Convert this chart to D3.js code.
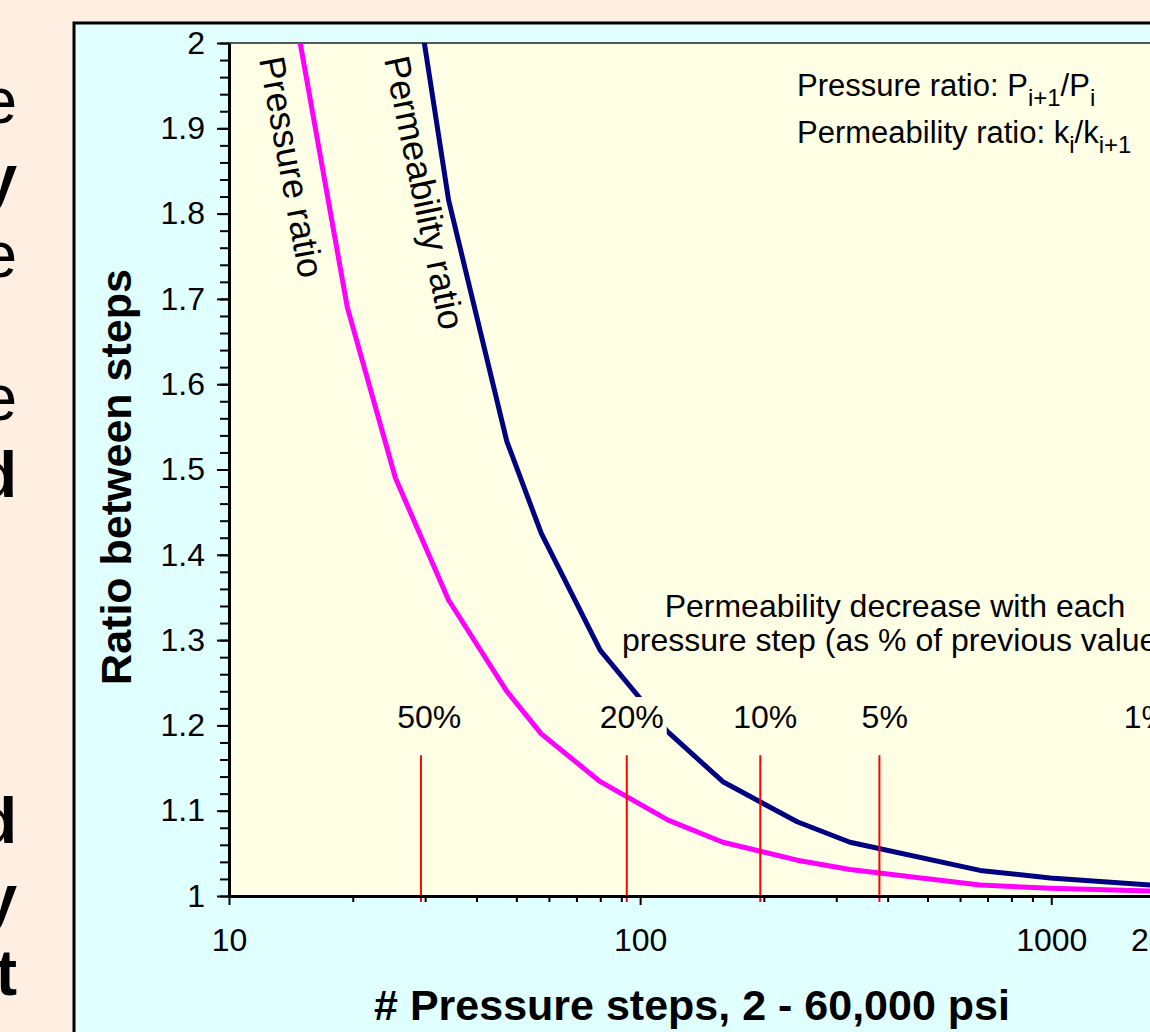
<!DOCTYPE html>
<html>
<head>
<meta charset="utf-8">
<script src="https://cdn.jsdelivr.net/npm/d3@7"></script>
<style>
  html, body { margin: 0; padding: 0; background: #FFEEE2; overflow: hidden; }
  svg { display: block; font-family: "Liberation Sans", Arial, Helvetica, sans-serif; }
</style>
</head>
<body>
<svg id="chart" width="1150" height="1032"></svg>
<script>
// Number of pressure steps used to go from 2 to 60,000 psi
const steps = [14.9, 19.4, 25.4, 34.2, 47.4, 57.5, 80, 117, 159, 241, 324, 671, 995, 2000];
// Pressure ratio between consecutive steps, P(i+1)/P(i)
const pressureRatio = [2.0, 1.69, 1.49, 1.347, 1.24, 1.19, 1.134, 1.089, 1.063, 1.042, 1.031, 1.013, 1.009, 1.005];
// Permeability ratio between consecutive steps, k(i)/k(i+1)
const permeabilityRatio = [4.0, 2.86, 2.22, 1.816, 1.533, 1.425, 1.288, 1.192, 1.134, 1.087, 1.063, 1.030, 1.021, 1.011];

// Permeability decrease per step and the step count where it is reached
const decreaseLabels = ["50%", "20%", "10%", "5%", "1%"];
const decreaseSteps = [29.3, 92.8, 196, 382, 2060];
const decreaseLabelSteps = [30.7, 95.4, 201.5, 393.5, 1708];
const decreaseMarkerRange = [0.993, 1.165];

// Axis ticks
const xTickValues = [10, 100, 1000, 2000];
const xTickLabels = ["10", "100", "1000", "2000"];
const xMinorTicks = [20, 30, 40, 50, 60, 70, 80, 90, 200, 300, 400, 500, 600, 700, 800, 900];
const yTickValues = [1, 1.1, 1.2, 1.3, 1.4, 1.5, 1.6, 1.7, 1.8, 1.9, 2];
const yTickLabels = ["1", "1.1", "1.2", "1.3", "1.4", "1.5", "1.6", "1.7", "1.8", "1.9", "2"];
const yMinorTicks = d3.range(1, 2.0001, 0.02);

// Tail ends of the slide's body text lines
const sideLetters = ["e", "y", "e", "e", "d", "d", "y", "t"];

const svg = d3.select("#chart");
const plot = { left: 229, top: 43, right: 1175, bottom: 896 };

const x = d3.scaleLog().domain([10, 2000]).range([plot.left, plot.right]);
const y = d3.scaleLinear().domain([1, 2]).range([plot.bottom, plot.top]);

// ---- slide text on the left (clipped by the page edge)
const sideLayout = [
  { y: 123, bold: false }, { y: 200, bold: true }, { y: 277, bold: false },
  { y: 420, bold: false }, { y: 497, bold: true },
  { y: 843, bold: true }, { y: 920, bold: true }, { y: 995, bold: true }
];
svg.append("g").selectAll("text")
  .data(sideLetters)
  .join("text")
  .attr("x", 17)
  .attr("y", (d, i) => sideLayout[i].y)
  .attr("text-anchor", "end")
  .attr("font-size", 64)
  .attr("font-weight", (d, i) => sideLayout[i].bold ? "bold" : "normal")
  .attr("fill", "#000")
  .text(d => d);

// ---- chart panel
svg.append("rect")
  .attr("x", 74).attr("y", 23)
  .attr("width", 1120).attr("height", 1060)
  .attr("fill", "#E0FFFF")
  .attr("stroke", "#000").attr("stroke-width", 3);

// plot area
svg.append("rect")
  .attr("x", plot.left).attr("y", plot.top)
  .attr("width", plot.right - plot.left).attr("height", plot.bottom - plot.top)
  .attr("fill", "#FFFFE5")
  .attr("stroke", "#222").attr("stroke-width", 1.5);

svg.append("clipPath").attr("id", "plot-clip")
  .append("rect")
  .attr("x", plot.left).attr("y", plot.top)
  .attr("width", plot.right - plot.left).attr("height", plot.bottom - plot.top);

// ---- curves
const pressureSeries = steps.map((n, i) => ({ n, v: pressureRatio[i] }));
const permeabilitySeries = steps.map((n, i) => ({ n, v: permeabilityRatio[i] }));
const line = d3.line().x(d => x(d.n)).y(d => y(d.v));

const curves = svg.append("g").attr("clip-path", "url(#plot-clip)");
curves.append("path")
  .datum(pressureSeries)
  .attr("d", line)
  .attr("fill", "none")
  .attr("stroke", "#FF00FF")
  .attr("stroke-width", 5)
  .attr("stroke-linejoin", "round");
curves.append("path")
  .datum(permeabilitySeries)
  .attr("d", line)
  .attr("fill", "none")
  .attr("stroke", "#000080")
  .attr("stroke-width", 5)
  .attr("stroke-linejoin", "round");

// ---- permeability-decrease markers
svg.append("g").selectAll("line")
  .data(decreaseSteps)
  .join("line")
  .attr("x1", d => x(d)).attr("x2", d => x(d))
  .attr("y1", y(decreaseMarkerRange[1]))
  .attr("y2", y(decreaseMarkerRange[0]))
  .attr("stroke", "#FF0000")
  .attr("stroke-width", 2);

const pctGroup = svg.append("g");
decreaseLabels.forEach((lab, i) => {
  const g = pctGroup.append("g");
  const box = g.append("rect").attr("fill", "#FFFFE5");
  const t = g.append("text")
    .attr("x", x(decreaseLabelSteps[i]))
    .attr("y", 728)
    .attr("text-anchor", "middle")
    .attr("font-size", 32)
    .attr("fill", "#000")
    .text(lab);
  const bb = t.node().getBBox();
  box.attr("x", bb.x - 3).attr("y", bb.y - 2)
     .attr("width", bb.width + 6).attr("height", bb.height + 10);
});

// ---- axes
const axisStyle = g => {
  g.selectAll(".domain").attr("stroke", "#000").attr("stroke-width", 3);
  g.selectAll(".tick line").attr("stroke", "#000").attr("stroke-width", 2);
  g.selectAll("text").attr("font-size", 32).attr("fill", "#000")
    .attr("font-family", "'Liberation Sans', Arial, sans-serif");
};

// y minor ticks
svg.append("g")
  .attr("transform", `translate(${plot.left},0)`)
  .call(d3.axisLeft(y).tickValues(yMinorTicks).tickSize(9).tickFormat(""))
  .call(g => g.select(".domain").remove())
  .call(axisStyle);

// y major ticks
svg.append("g")
  .attr("transform", `translate(${plot.left},0)`)
  .call(d3.axisLeft(y).tickValues(yTickValues).tickSize(12).tickSizeOuter(0).tickPadding(12)
        .tickFormat((d, i) => yTickLabels[i]))
  .call(axisStyle);

// x minor ticks
svg.append("g")
  .attr("transform", `translate(0,${plot.bottom})`)
  .call(d3.axisBottom(x).tickValues(xMinorTicks).tickSize(6).tickFormat(""))
  .call(g => g.select(".domain").remove())
  .call(axisStyle);

// x major ticks
const xAxisG = svg.append("g")
  .attr("transform", `translate(0,${plot.bottom})`)
  .call(d3.axisBottom(x).tickValues(xTickValues).tickSize(9).tickSizeOuter(0).tickPadding(23)
        .tickFormat((d, i) => xTickLabels[i]))
  .call(axisStyle);
xAxisG.selectAll(".tick").filter(d => d === 2000).select("text").attr("dx", -9);

// axis titles
svg.append("text")
  .attr("x", 692).attr("y", 1020)
  .attr("text-anchor", "middle")
  .attr("font-size", 43).attr("font-weight", "bold")
  .text("# Pressure steps, 2 - 60,000 psi");

svg.append("text")
  .attr("transform", "translate(131,477) rotate(-90)")
  .attr("text-anchor", "middle")
  .attr("font-size", 43).attr("font-weight", "bold")
  .text("Ratio between steps");

// ---- curve labels
svg.append("text")
  .attr("transform", "translate(259,59) rotate(79.6)")
  .attr("font-size", 36)
  .text("Pressure ratio");
svg.append("text")
  .attr("transform", "translate(384,59) rotate(78.3)")
  .attr("font-size", 36)
  .text("Permeability ratio");

// ---- definitions of the ratios
const def1 = svg.append("text").attr("x", 797).attr("y", 96).attr("font-size", 31);
def1.append("tspan").text("Pressure ratio: P");
def1.append("tspan").attr("dy", 10).attr("font-size", 24).text("i+1");
def1.append("tspan").attr("dy", -10).text("/P");
def1.append("tspan").attr("dy", 10).attr("font-size", 24).text("i");

const def2 = svg.append("text").attr("x", 797).attr("y", 143).attr("font-size", 31);
def2.append("tspan").text("Permeability ratio: k");
def2.append("tspan").attr("dy", 10).attr("font-size", 24).text("i");
def2.append("tspan").attr("dy", -10).text("/k");
def2.append("tspan").attr("dy", 10).attr("font-size", 24).text("i+1");

// ---- note above the markers
const note = svg.append("text").attr("text-anchor", "middle").attr("font-size", 32);
note.append("tspan").attr("x", 895).attr("y", 617).text("Permeability decrease with each");
note.append("tspan").attr("x", 895).attr("y", 651).text("pressure step (as % of previous value)");
</script>
</body>
</html>
